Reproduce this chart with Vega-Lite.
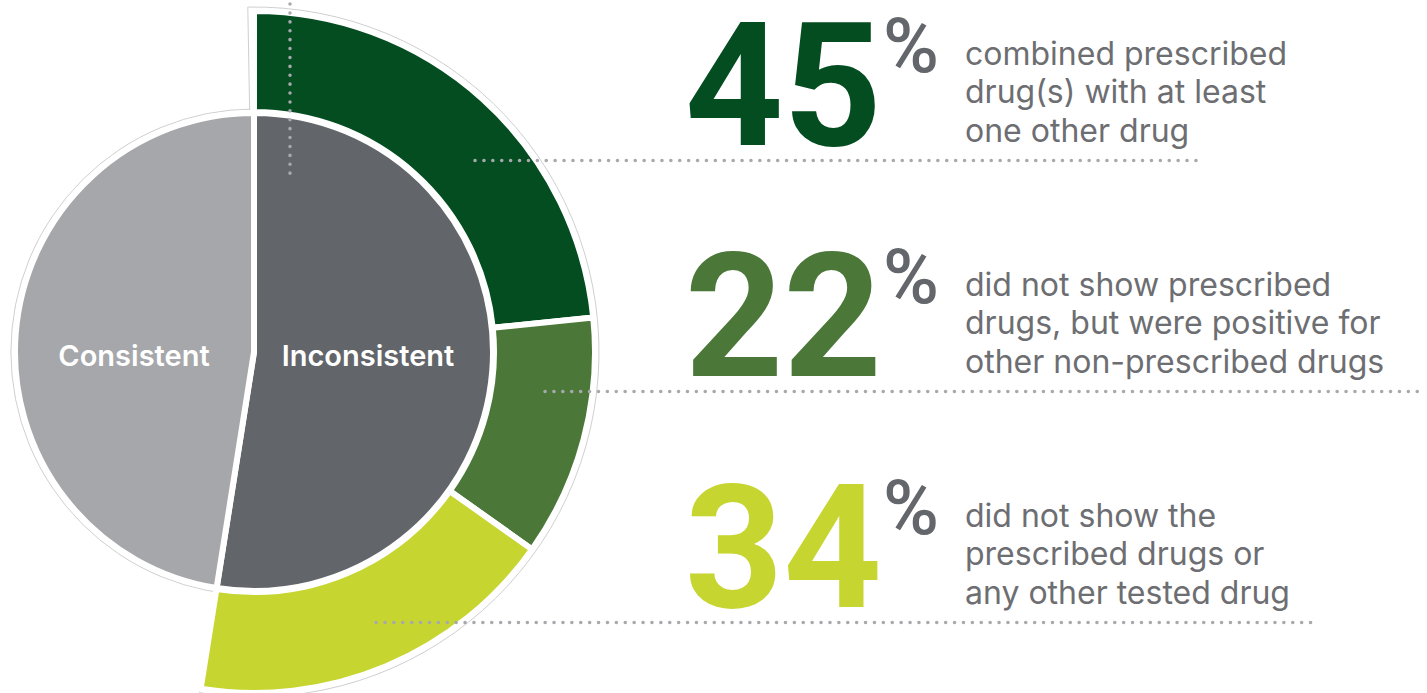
{
  "$schema": "https://vega.github.io/schema/vega-lite/v6.json",
  "width": 1427,
  "height": 693,
  "autosize": {"type": "none"},
  "padding": 0,
  "background": "white",
  "config": {"view": {"stroke": null}, "font": "Roboto"},
  "datasets": {
    "pie": [
      {"group": "Inconsistent", "share": 52.5},
      {"group": "Consistent", "share": 47.5}
    ],
    "ring": [
      {"seg": "combined", "pct": 45, "desc": "combined prescribed\ndrug(s) with at least\none other drug"},
      {"seg": "other drugs only", "pct": 22, "desc": "did not show prescribed\ndrugs, but were positive for\nother non-prescribed drugs"},
      {"seg": "none", "pct": 34, "desc": "did not show the\nprescribed drugs or\nany other tested drug"}
    ],
    "blank": [{}]
  },
  "resolve": {"scale": {"theta": "independent"}},
  "layer": [
    {
      "data": {"name": "blank"},
      "mark": {"type": "arc", "x": 254, "y": 352, "radius": 243, "theta": 0, "theta2": 6.2832, "fill": "white", "stroke": "#cfcfd1", "strokeWidth": 1},
      "encoding": {}
    },
    {
      "data": {"name": "blank"},
      "mark": {"type": "arc", "x": 254, "y": 352, "radius": 345, "theta": -0.018, "theta2": 3.30, "fill": "white", "stroke": "#cfcfd1", "strokeWidth": 1},
      "encoding": {}
    },
    {
      "data": {"name": "ring"},
      "mark": {"type": "arc", "x": 254, "y": 352, "radius": 341, "radius2": 240, "stroke": "white", "strokeWidth": 6},
      "encoding": {
        "theta": {"field": "pct", "type": "quantitative", "stack": true, "scale": {"range": [0, 3.2987], "nice": false}},
        "order": {"field": "desc", "type": "ordinal"},
        "color": {"field": "seg", "type": "nominal", "legend": null,
          "scale": {"domain": ["Inconsistent", "Consistent", "combined", "other drugs only", "none"], "range": ["#626569", "#a6a7aa", "#034d20", "#4b7838", "#c6d530"]}}
      }
    },
    {
      "data": {"name": "pie"},
      "mark": {"type": "arc", "x": 254, "y": 352, "radius": 239, "stroke": "white", "strokeWidth": 6},
      "encoding": {
        "theta": {"field": "share", "type": "quantitative", "stack": true, "scale": {"nice": false}},
        "order": {"field": "group", "type": "ordinal", "sort": "descending"},
        "color": {"field": "group", "type": "nominal", "legend": null,
          "scale": {"domain": ["Inconsistent", "Consistent", "combined", "other drugs only", "none"], "range": ["#626569", "#a6a7aa", "#034d20", "#4b7838", "#c6d530"]}}
      }
    },
    {
      "data": {"name": "pie"},
      "mark": {"type": "text", "x": {"expr": "datum.group === 'Consistent' ? 134 : 368"}, "y": 357, "fill": "white", "fontSize": 29, "fontWeight": 600, "font": "Inter", "align": "center", "baseline": "middle"},
      "encoding": {
        "text": {"field": "group", "type": "nominal"}
      }
    },
    {
      "data": {"name": "ring"},
      "mark": {"type": "rule", "x": {"expr": "datum.seg === 'combined' ? 475 : datum.seg === 'none' ? 376 : 545"}, "x2": {"expr": "datum.seg === 'combined' ? 1204 : datum.seg === 'none' ? 1312 : 1420"}, "yOffset": 45, "stroke": "#a7a9ac", "strokeWidth": 3.5, "strokeCap": "round", "strokeDash": [0.1, 8.8]},
      "encoding": {
        "y": {"field": "seg", "type": "nominal", "axis": null, "scale": {"type": "point", "padding": 0.5, "domain": ["combined", "other drugs only", "none"]}}
      }
    },
    {
      "data": {"name": "blank"},
      "mark": {"type": "rule", "stroke": "#a7a9ac", "strokeWidth": 3.5, "strokeCap": "round", "strokeDash": [0.1, 8.8]},
      "encoding": {"x": {"value": 290}, "y": {"value": 4}, "y2": {"value": 180}}
    },
    {
      "data": {"name": "ring"},
      "mark": {"type": "text", "x": 882, "align": "right", "baseline": "alphabetic", "dy": 29, "fontSize": 172, "fontWeight": "bold"},
      "encoding": {
        "y": {"field": "seg", "type": "nominal", "axis": null, "scale": {"type": "point", "padding": 0.5, "domain": ["combined", "other drugs only", "none"]}},
        "text": {"field": "pct", "type": "quantitative"},
        "color": {"field": "seg", "type": "nominal", "legend": null,
          "scale": {"domain": ["Inconsistent", "Consistent", "combined", "other drugs only", "none"], "range": ["#626569", "#a6a7aa", "#034d20", "#4b7838", "#c6d530"]}}
      }
    },
    {
      "data": {"name": "ring"},
      "mark": {"type": "text", "text": "%", "x": 883, "align": "left", "baseline": "alphabetic", "dy": -44, "fontSize": 76, "fontWeight": 500, "fill": "#63666a"},
      "encoding": {
        "y": {"field": "seg", "type": "nominal", "axis": null, "scale": {"type": "point", "padding": 0.5, "domain": ["combined", "other drugs only", "none"]}}
      }
    },
    {
      "data": {"name": "ring"},
      "mark": {"type": "text", "x": 965, "align": "left", "baseline": "alphabetic", "dy": -51, "fontSize": 32, "font": "Inter", "lineHeight": 38.5, "lineBreak": "\n", "fill": "#6d6e72"},
      "encoding": {
        "y": {"field": "seg", "type": "nominal", "axis": null, "scale": {"type": "point", "padding": 0.5, "domain": ["combined", "other drugs only", "none"]}},
        "text": {"field": "desc", "type": "nominal"}
      }
    }
  ]
}
